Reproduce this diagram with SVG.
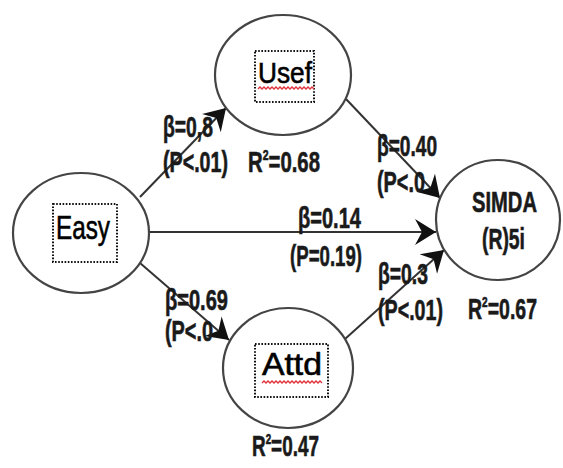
<svg xmlns="http://www.w3.org/2000/svg" width="563" height="468" viewBox="0 0 563 468">
<defs>
<style>
.node{fill:#fff;stroke:#444;stroke-width:2.2}
.box{fill:none;stroke:#111;stroke-width:2;stroke-dasharray:1.6 1.6}
.name{font-family:"Liberation Sans",Arial,sans-serif;font-weight:normal;fill:#000;stroke:#000;stroke-width:0.6}
.lbl{font-family:"Liberation Sans",Arial,sans-serif;font-weight:bold;font-size:29px;fill:#1a1a1a;stroke:#1a1a1a;stroke-width:0.6}
.wave{fill:none;stroke:#e0303a;stroke-width:1.3}
.edge{stroke:#333;stroke-width:2;fill:none;marker-end:url(#arr)}
</style>
<marker id="arr" markerUnits="userSpaceOnUse" markerWidth="26" markerHeight="30" viewBox="-2 -15 26 30" refX="21" refY="0" orient="auto">
<path d="M0,-13 L21,0 L0,13 L7,0 Z" fill="#111"/>
</marker>
</defs>
<rect width="563" height="468" fill="#fff"/>
<g id="connectors">
<line class="edge" x1="140" y1="197" x2="226" y2="108"/>
<line class="edge" x1="346" y1="99" x2="440" y2="198"/>
<line class="edge" x1="149" y1="232" x2="436" y2="232"/>
<line class="edge" x1="140" y1="263" x2="229" y2="340"/>
<line class="edge" x1="345" y1="339" x2="444" y2="250"/>
</g>
<g id="node-usef">
<ellipse class="node" cx="283" cy="75" rx="68" ry="60"/>
<rect class="box" x="255" y="51" width="59" height="51"/>
<text class="name" x="258" y="83" font-size="30" textLength="54" lengthAdjust="spacingAndGlyphs">Usef</text>
<path class="wave" d="M258,89 l2,-2 l2,2 l2,-2 l2,2 l2,-2 l2,2 l2,-2 l2,2 l2,-2 l2,2 l2,-2 l2,2 l2,-2 l2,2 l2,-2 l2,2 l2,-2 l2,2 l2,-2 l2,2 l2,-2 l2,2 l2,-2 l2,2 l2,-2 l2,2 l2,-2 l2,2"/>
</g>
<g id="node-easy">
<ellipse class="node" cx="81" cy="233" rx="68" ry="60"/>
<rect class="box" x="53" y="204" width="64" height="58"/>
<text class="name" x="56" y="239" font-size="33" textLength="54" lengthAdjust="spacingAndGlyphs">Easy</text>
</g>
<g id="node-attd">
<ellipse class="node" cx="288" cy="368" rx="65" ry="60"/>
<rect class="box" x="255" y="344" width="73" height="53"/>
<text class="name" x="262" y="375" font-size="31" textLength="60" lengthAdjust="spacingAndGlyphs">Attd</text>
<path class="wave" d="M262,383 l2,-2 l2,2 l2,-2 l2,2 l2,-2 l2,2 l2,-2 l2,2 l2,-2 l2,2 l2,-2 l2,2 l2,-2 l2,2 l2,-2 l2,2 l2,-2 l2,2 l2,-2 l2,2 l2,-2 l2,2 l2,-2 l2,2 l2,-2 l2,2 l2,-2 l2,2 l2,-2 l2,2"/>
</g>
<g id="node-simda">
<ellipse class="node" cx="498" cy="220" rx="62" ry="60"/>
<text class="lbl" x="472" y="212" font-size="34" textLength="65" lengthAdjust="spacingAndGlyphs">SIMDA</text>
<text class="lbl" x="482" y="249" font-size="34" textLength="43" lengthAdjust="spacingAndGlyphs">(R)5i</text>
</g>
<g id="labels">
<text class="lbl" x="163" y="137" textLength="50" lengthAdjust="spacingAndGlyphs">β=0,8</text>
<text class="lbl" x="163" y="172" textLength="65" lengthAdjust="spacingAndGlyphs">(P&lt;.01)</text>
<text class="lbl" x="248" y="172" textLength="72" lengthAdjust="spacingAndGlyphs">R<tspan dy="-12" font-size="15">2</tspan><tspan dy="12">=0.68</tspan></text>
<text class="lbl" x="377" y="156" textLength="60" lengthAdjust="spacingAndGlyphs">β=0.40</text>
<text class="lbl" x="377" y="192" textLength="48" lengthAdjust="spacingAndGlyphs">(P&lt;.0</text>
<text class="lbl" x="298" y="228" textLength="63" lengthAdjust="spacingAndGlyphs">β=0.14</text>
<text class="lbl" x="290" y="266" textLength="72" lengthAdjust="spacingAndGlyphs">(P=0.19)</text>
<text class="lbl" x="378" y="284" textLength="50" lengthAdjust="spacingAndGlyphs">β=0.3</text>
<text class="lbl" x="378" y="320" textLength="65" lengthAdjust="spacingAndGlyphs">(P&lt;.01)</text>
<text class="lbl" x="468" y="319" textLength="69" lengthAdjust="spacingAndGlyphs">R<tspan dy="-12" font-size="15">2</tspan><tspan dy="12">=0.67</tspan></text>
<text class="lbl" x="165" y="310" textLength="63" lengthAdjust="spacingAndGlyphs">β=0.69</text>
<text class="lbl" x="165" y="341" textLength="48" lengthAdjust="spacingAndGlyphs">(P&lt;.0</text>
<text class="lbl" x="252" y="456" textLength="67" lengthAdjust="spacingAndGlyphs">R<tspan dy="-12" font-size="15">2</tspan><tspan dy="12">=0.47</tspan></text>
</g>
</svg>
